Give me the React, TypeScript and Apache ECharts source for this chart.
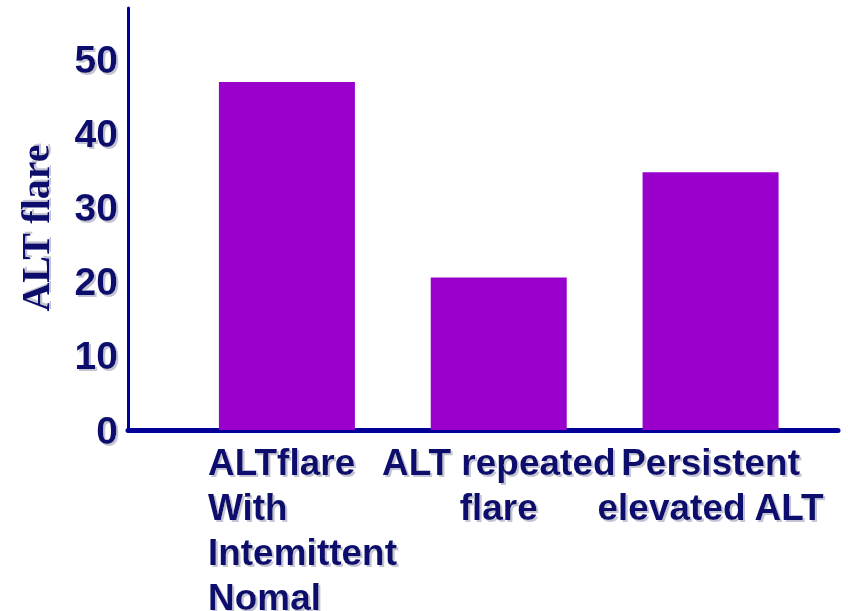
import React, { useEffect, useRef } from "react";
import * as echarts from "echarts";

const categories = [
  "ALTflare\nWith\nIntemittent\nNomal",
  "ALT repeated\nflare",
  "Persistent\nelevated ALT",
];
const values = [47, 20.6, 34.8];
const yMin = 0;
const yMax = 57;
const yInterval = 10;
const yName = "ALT flare";

const navy = "#0a0a6e";
const axisBlue = "#000099";
const barColor = "#9900cc";
const shadow = "#c4c4d4";

export default function App() {
  const ref = useRef<HTMLDivElement>(null);
  useEffect(() => {
    if (!ref.current) return;
    const chart = echarts.init(ref.current, null, { renderer: "svg" });
    const textBase = {
      color: navy,
      fontWeight: "bold" as const,
      fontFamily: "Liberation Sans, Arial, sans-serif",
      fontSize: 37,
      textShadowColor: shadow,
      textShadowOffsetX: 2,
      textShadowOffsetY: 2,
      textShadowBlur: 1,
    };
    chart.setOption({
      animation: false,
      grid: [
        { left: 181, right: 31.5, top: 8, bottom: 181, outerBoundsMode: "none", containLabel: false },
        { left: 128, right: 10, top: 8, bottom: 181, outerBoundsMode: "none", containLabel: false },
      ],
      xAxis: [
        {
          type: "category",
          gridIndex: 0,
          data: categories,
          axisLine: { show: false },
          axisTick: { show: false },
          axisLabel: {
            ...textBase,
            interval: 0,
            margin: 10,
            lineHeight: 45,
            formatter: (v: string, i: number) => {
              if (i === 0) {
                return v
                  .split("\n")
                  .map((s) => `{l|${s}}`)
                  .join("\n");
              }
              return v;
            },
            rich: {
              l: {
                ...textBase,
                width: 158,
                align: "left",
                lineHeight: 45,
              },
            },
          },
        },
        {
          type: "value",
          gridIndex: 1,
          min: 0,
          max: 1,
          axisLine: { show: true, lineStyle: { color: axisBlue, width: 5 } },
          axisTick: { show: false },
          axisLabel: { show: false },
          splitLine: { show: false },
        },
      ],
      yAxis: [
        {
          type: "value",
          gridIndex: 0,
          min: yMin,
          max: yMax,
          interval: yInterval,
          show: false,
        },
        {
          type: "value",
          gridIndex: 1,
          min: yMin,
          max: yMax,
          interval: yInterval,
          name: yName,
          nameLocation: "middle",
          nameGap: 73,
          nameTextStyle: {
            color: navy,
            fontWeight: "bold",
            fontFamily: "Liberation Serif, Times New Roman, serif",
            fontSize: 40,
            textShadowColor: shadow,
            textShadowOffsetX: 2,
            textShadowOffsetY: 2,
            textShadowBlur: 1,
            padding: [0, 18, 0, 0],
          },
          axisLine: { show: true, lineStyle: { color: axisBlue, width: 3 } },
          axisTick: { show: false },
          splitLine: { show: false },
          axisLabel: {
            ...textBase,
            fontSize: 39,
            margin: 10,
            padding: [4, 0, 0, 0],
            showMaxLabel: false,
          },
        },
      ],
      series: [
        {
          type: "bar",
          xAxisIndex: 0,
          yAxisIndex: 0,
          data: values,
          barWidth: 136,
          itemStyle: { color: barColor },
        },
      ],
    });
    return () => chart.dispose();
  }, []);
  return <div ref={ref} style={{ width: 848, height: 611, position: "absolute", left: 0, top: 0 }} />;
}
